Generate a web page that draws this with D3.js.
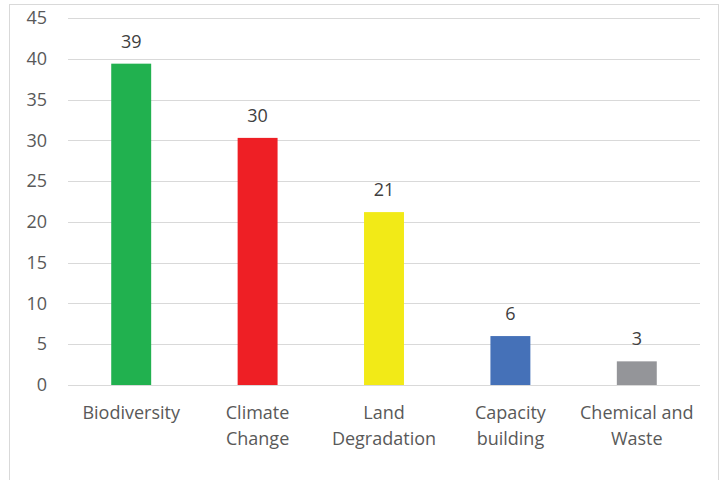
<!DOCTYPE html>
<html><head><meta charset="utf-8">
<script src="https://cdn.jsdelivr.net/npm/d3@7"></script>
<style>html,body{margin:0;padding:0;background:#fff;}svg{display:block;}</style>
</head><body>
<script>
const categories = [["Biodiversity"], ["Climate", "Change"], ["Land", "Degradation"], ["Capacity", "building"], ["Chemical and", "Waste"]];
const values = [39.4, 30.3, 21.2, 6.0, 2.9];
const colors = ["#21b14f", "#ee1f25", "#f2ea17", "#4571b8", "#949599"];
const yTicks = [0, 5, 10, 15, 20, 25, 30, 35, 40, 45];

(function () {
const W = 726, H = 480;
const svg = d3.select("body").append("svg").attr("width", W).attr("height", H);
const font = "'Open Sans', 'Segoe UI', sans-serif";
const fs = 18;

svg.append("rect").attr("x", 9.5).attr("y", 4.5).attr("width", 709).attr("height", 490)
  .attr("fill", "none").attr("stroke", "#d9d9d9").attr("stroke-width", 1);

const mLeft = 68, mRight = 700, mTop = 18, mBottom = 385;
const y = d3.scaleLinear().domain([0, 45]).range([mBottom, mTop]);
const x = d3.scaleBand().domain(d3.range(categories.length)).range([mLeft, mRight])
  .paddingInner(0.684).paddingOuter(0.342);

const grid = svg.append("g");
grid.selectAll("line").data(yTicks).join("line")
  .attr("x1", mLeft).attr("x2", mRight)
  .attr("y1", d => Math.round(y(d)) + 0.5).attr("y2", d => Math.round(y(d)) + 0.5)
  .attr("stroke", "#d9d9d9").attr("stroke-width", 1);

const yAxis = svg.append("g").attr("transform", `translate(${mLeft},0)`)
  .call(d3.axisLeft(y).tickValues(yTicks).tickSize(0).tickPadding(21));
yAxis.select(".domain").remove();
yAxis.selectAll("text").attr("font-family", font).attr("font-size", fs).attr("fill", "#595959");

svg.append("g").selectAll("rect").data(values).join("rect")
  .attr("x", (d, i) => x(i)).attr("width", x.bandwidth())
  .attr("y", d => y(d)).attr("height", d => y(0) - y(d))
  .attr("fill", (d, i) => colors[i]);

svg.append("g").selectAll("text").data(values).join("text")
  .attr("x", (d, i) => x(i) + x.bandwidth() / 2)
  .attr("y", d => y(d) - 16)
  .attr("text-anchor", "middle").attr("font-family", font).attr("font-size", fs)
  .attr("fill", "#404040").text(d => d3.format(".0f")(d));

const xl = svg.append("g").selectAll("text").data(categories).join("text")
  .attr("x", (d, i) => x(i) + x.bandwidth() / 2)
  .attr("y", 419)
  .attr("text-anchor", "middle").attr("font-family", font).attr("font-size", fs)
  .attr("fill", "#595959");
xl.selectAll("tspan").data(d => d).join("tspan")
  .attr("x", function() { return this.parentNode.getAttribute("x"); })
  .attr("dy", (d, j) => j === 0 ? 0 : 26).text(d => d);
})();
</script>
</body></html>
